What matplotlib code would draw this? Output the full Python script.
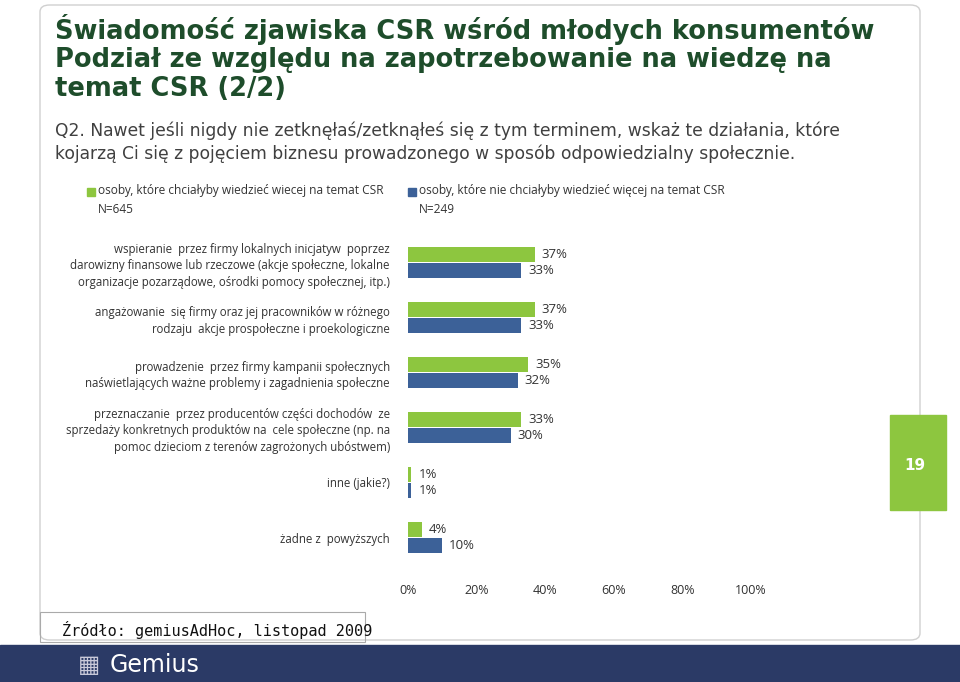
import matplotlib
matplotlib.use("Agg")
import matplotlib.pyplot as plt
from matplotlib.patches import FancyBboxPatch, Rectangle

categories = [
    "wspieranie  przez firmy lokalnych inicjatyw  poprzez\ndarowizny finansowe lub rzeczowe (akcje społeczne, lokalne\norganizacje pozarządowe, ośrodki pomocy społecznej, itp.)",
    "angażowanie  się firmy oraz jej pracowników w różnego\nrodzaju  akcje prospołeczne i proekologiczne",
    "prowadzenie  przez firmy kampanii społecznych\nnaświetlających ważne problemy i zagadnienia społeczne",
    "przeznaczanie  przez producentów części dochodów  ze\nsprzedaży konkretnych produktów na  cele społeczne (np. na\npomoc dzieciom z terenów zagrożonych ubóstwem)",
    "inne (jakie?)",
    "żadne z  powyższych",
]
want_more = [37, 37, 35, 33, 1, 4]
no_more = [33, 33, 32, 30, 1, 10]
xticks = [0, 20, 40, 60, 80, 100]
legend_labels = ["osoby, które chciałyby wiedzieć wiecej na temat CSR\nN=645",
                 "osoby, które nie chciałyby wiedzieć więcej na temat CSR\nN=249"]

GREEN = "#8DC63F"
BLUE = "#3C6198"
W, H = 960, 682
fig = plt.figure(figsize=(W/100, H/100), dpi=100)
fig.patch.set_facecolor("white")

def fx(px): return px / W
def fy(py): return 1 - py / H

fig.patches.append(FancyBboxPatch((fx(40), fy(640)), fx(880), fy(5) - fy(640),
                   boxstyle="round,pad=0,rounding_size=0.01", transform=fig.transFigure,
                   fill=False, edgecolor="#d0d0d0", lw=1))
fig.patches.append(Rectangle((0, 0), 1, fy(645), transform=fig.transFigure,
                             color="#2B3A66", zorder=0))
fig.text(fx(110), fy(665), "Gemius", color="white", fontsize=17, va="center",
         fontfamily="DejaVu Sans")
fig.text(fx(78), fy(665), "▦", color="#c9c9d9", fontsize=17, va="center")
fig.patches.append(Rectangle((fx(890), fy(510)), fx(56), fy(415) - fy(510),
                             transform=fig.transFigure, color=GREEN))
fig.text(fx(904), fy(465), "19", color="white", fontsize=11, fontweight="bold", va="center")

title = "Świadomość zjawiska CSR wśród młodych konsumentów\nPodział ze względu na zapotrzebowanie na wiedzę na\ntemat CSR (2/2)"
fig.text(fx(55), fy(14), title, color="#1E4D2B", fontsize=18.5, fontweight="bold",
         va="top", linespacing=1.12, fontfamily="DejaVu Sans")
fig.text(fx(55), fy(122), "Q2. Nawet jeśli nigdy nie zetknęłaś/zetknąłeś się z tym terminem, wskaż te działania, które\nkojarzą Ci się z pojęciem biznesu prowadzonego w sposób odpowiedzialny społecznie.",
         color="#404040", fontsize=12.3, va="top", linespacing=1.25)

fig.patches.append(Rectangle((fx(87), fy(196)), fx(8), fy(188) - fy(196), transform=fig.transFigure, color=GREEN))
fig.text(fx(98), fy(184), legend_labels[0], fontsize=8.6, va="top", color="#333", fontfamily="Open Sans", linespacing=1.6)
fig.patches.append(Rectangle((fx(408), fy(196)), fx(8), fy(188) - fy(196), transform=fig.transFigure, color=BLUE))
fig.text(fx(419), fy(184), legend_labels[1], fontsize=8.6, va="top", color="#333", fontfamily="Open Sans", linespacing=1.6)

ax = fig.add_axes([fx(408), fy(565), fx(751) - fx(408), fy(235) - fy(565)])
y = list(range(len(categories)))
h = 0.28
ax.barh([v - 0.15 for v in y], want_more, height=h, color=GREEN)
ax.barh([v + 0.15 for v in y], no_more, height=h, color=BLUE)
for i in y:
    ax.text(want_more[i] + 2, i - 0.15, f"{want_more[i]}%", va="center", fontsize=9.5, color="#333", fontfamily="Open Sans")
    ax.text(no_more[i] + 2, i + 0.15, f"{no_more[i]}%", va="center", fontsize=9.5, color="#333", fontfamily="Open Sans")
ax.set_xlim(0, 100)
ax.set_ylim(len(categories) - 0.5, -0.5)
ax.set_yticks(y)
ax.set_yticklabels(categories, fontsize=8.3, fontfamily="Open Sans", color="#333", linespacing=1.35)
ax.set_xticks(xticks)
ax.set_xticklabels([f"{t}%" for t in xticks], fontsize=9, fontfamily="Open Sans", color="#333")
ax.tick_params(length=0, pad=14)
ax.tick_params(axis="y", pad=13)
for s in ax.spines.values():
    s.set_visible(False)

fig.patches.append(Rectangle((fx(40), fy(642)), fx(325), fy(612) - fy(642), transform=fig.transFigure,
                             fill=False, edgecolor="#aaaaaa", lw=0.8))
fig.text(fx(62), fy(630), "Źródło: gemiusAdHoc, listopad 2009", fontsize=11, va="center",
         fontfamily="DejaVu Sans Mono", color="#111")

fig.savefig("out.png", dpi=100)
